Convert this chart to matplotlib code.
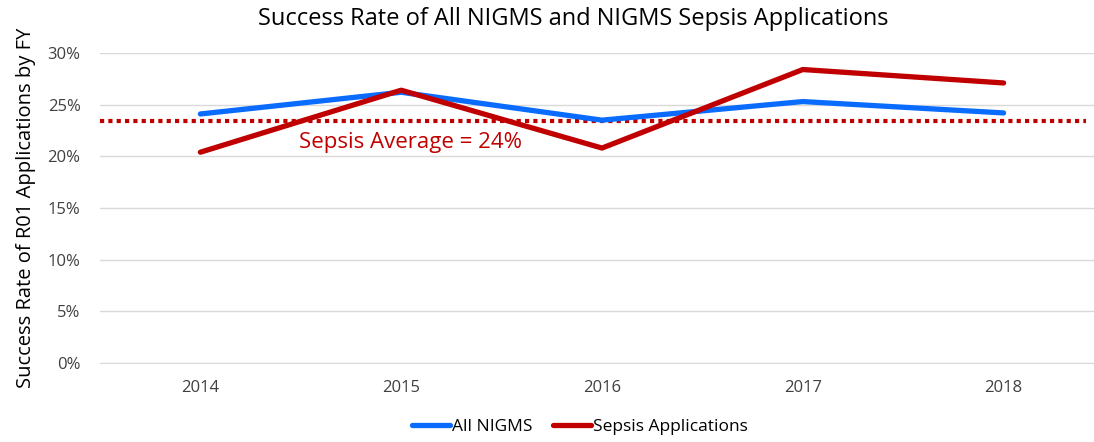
import matplotlib
matplotlib.use("Agg")
import matplotlib.pyplot as plt
from matplotlib.ticker import PercentFormatter

years = ["2014", "2015", "2016", "2017", "2018"]
all_nigms = [24.1, 26.2, 23.5, 25.3, 24.2]
sepsis = [20.4, 26.4, 20.8, 28.4, 27.1]
sepsis_avg = 23.4
avg_label = "Sepsis Average = 24%"

plt.rcParams['font.family'] = ['Open Sans', 'DejaVu Sans']

fig = plt.figure(figsize=(10.94, 4.42), dpi=100)
ax = fig.add_axes([100/1094, 79/442, 1004/1094, 310/442])

x = list(range(len(years)))
ax.plot(x, all_nigms, color="#0A6CFF", lw=3.8, solid_capstyle="round", label="All NIGMS", zorder=3)
ax.plot(x, sepsis, color="#C00000", lw=3.8, solid_capstyle="round", label="Sepsis Applications", zorder=4)
ax.plot([-0.5, 4.41], [sepsis_avg, sepsis_avg], color="#C00000", lw=3.0,
        linestyle=(0, (1, 1)), zorder=2)
ax.text(0.49, 21.3, avg_label, color="#C00000", fontsize=16, ha="left", va="center")

ax.set_xlim(-0.5, 4.5)
ax.set_ylim(0, 30)
ax.set_yticks([0, 5, 10, 15, 20, 25, 30])
ax.yaxis.set_major_formatter(PercentFormatter(decimals=0))
ax.set_xticks(x)
ax.set_xticklabels(years)
ax.tick_params(axis="both", length=0, labelsize=12, colors="#404040")
ax.tick_params(axis="x", pad=12)
ax.tick_params(axis="y", pad=14)
for sp in ax.spines.values():
    sp.set_visible(False)
ax.spines["bottom"].set_visible(True)
ax.spines["bottom"].set_color("#D9D9D9")
ax.grid(axis="y", color="#D9D9D9", lw=1)
ax.set_axisbelow(True)

ax.set_ylabel("Success Rate of R01 Applications by FY", fontsize=14.5, color="#000000", labelpad=8)
fig.text(0.524, 0.958, "Success Rate of All NIGMS and NIGMS Sepsis Applications",
         ha="center", va="center", fontsize=17, color="#000000")

leg = fig.legend(loc="center", bbox_to_anchor=(0.53, 0.035), ncol=2, frameon=False,
                 fontsize=12.5, handlelength=2.2, columnspacing=1.2, handletextpad=0.1)
for t in leg.get_texts():
    t.set_color("#000000")

fig.savefig("out.png", dpi=100)
